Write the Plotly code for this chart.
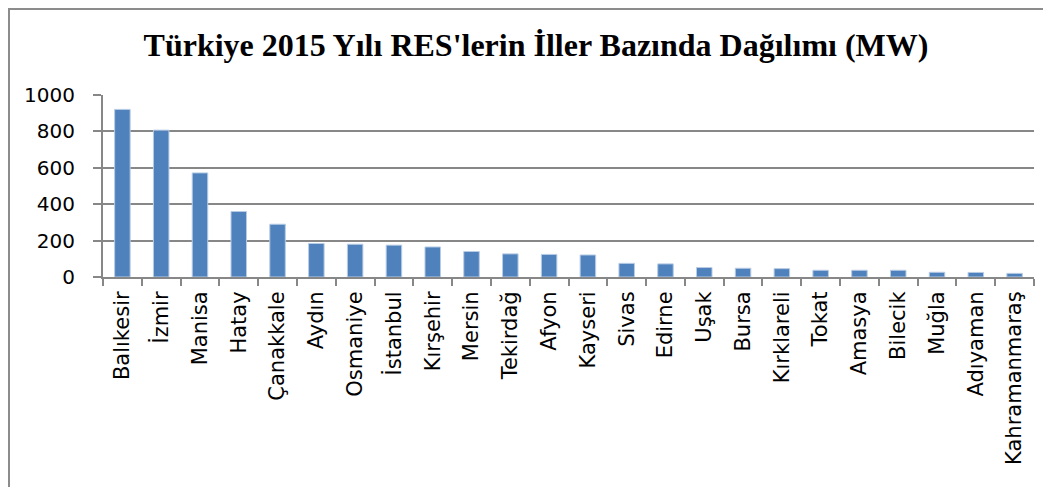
import plotly.graph_objects as go

# 2015 installed wind capacity per province (MW)
iller = ["Balıkesir", "İzmir", "Manisa", "Hatay", "Çanakkale", "Aydın", "Osmaniye",
         "İstanbul", "Kırşehir", "Mersin", "Tekirdağ", "Afyon", "Kayseri", "Sivas",
         "Edirne", "Uşak", "Bursa", "Kırklareli", "Tokat", "Amasya", "Bilecik",
         "Muğla", "Adıyaman", "Kahramanmaraş"]
kapasite_mw = [921, 807, 572, 360, 290, 184, 180, 175, 165, 140, 127, 124, 121,
               75, 72, 52, 48, 46, 37, 37, 37, 26, 25, 20]
y_ticks = [0, 200, 400, 600, 800, 1000]

# the page body keeps its default 8px margin, so the figure starts at (8, 8)
OFF = 8
W, H = 1051 - OFF, 487 - OFF
L, R, T, B = 95, 17, 87, 210
PW, PH = W - L - R, H - T - B
GRID = "#878787"


def fig_to_paper(x, y):
    # figure pixel coords -> paper coords
    return (x - L) / PW, (H - B - y) / PH


fig = go.Figure()
fig.add_bar(
    x=iller, y=kapasite_mw,
    marker=dict(color="#4F81BD", line=dict(color="#B8CCE4", width=1)),
)

x0, y0 = fig_to_paper(1, 1)
x1, y1 = fig_to_paper(W + 20, H + 20)

fig.update_layout(
    width=W, height=H,
    paper_bgcolor="white", plot_bgcolor="white",
    margin=dict(l=L, r=R, t=T, b=B),
    showlegend=False,
    bargap=0.6,
    font=dict(family="DejaVu Sans", size=20, color="black"),
    title=dict(
        text="Türkiye 2015 Yılı RES'lerin İller Bazında Dağılımı (MW)",
        font=dict(family="Liberation Serif", size=32, color="black", weight="bold"),
        x=(536 - OFF) / W, xref="container", xanchor="center",
        y=1 - (45 - OFF) / H, yref="container", yanchor="middle",
    ),
    xaxis=dict(
        tickangle=-90, ticks="outside", tickson="boundaries", ticklen=7,
        tickcolor=GRID, tickwidth=2, showline=True, linecolor=GRID, linewidth=2,
        showgrid=False, ticklabelstandoff=4, tickfont=dict(size=21),
    ),
    yaxis=dict(
        range=[0, 1000], tickvals=y_ticks, ticks="outside", ticklen=8,
        tickcolor=GRID, tickwidth=2, showline=True, linecolor=GRID, linewidth=2,
        showgrid=True, gridcolor=GRID, gridwidth=2, zeroline=False,
        ticklabelstandoff=14, tickfont=dict(size=20),
    ),
    shapes=[dict(type="rect", xref="paper", yref="paper", x0=x0, y0=y1, x1=x1, y1=y0,
                 line=dict(color="#8C8C8C", width=2), layer="below")],
)

fig.write_html("out.html")
